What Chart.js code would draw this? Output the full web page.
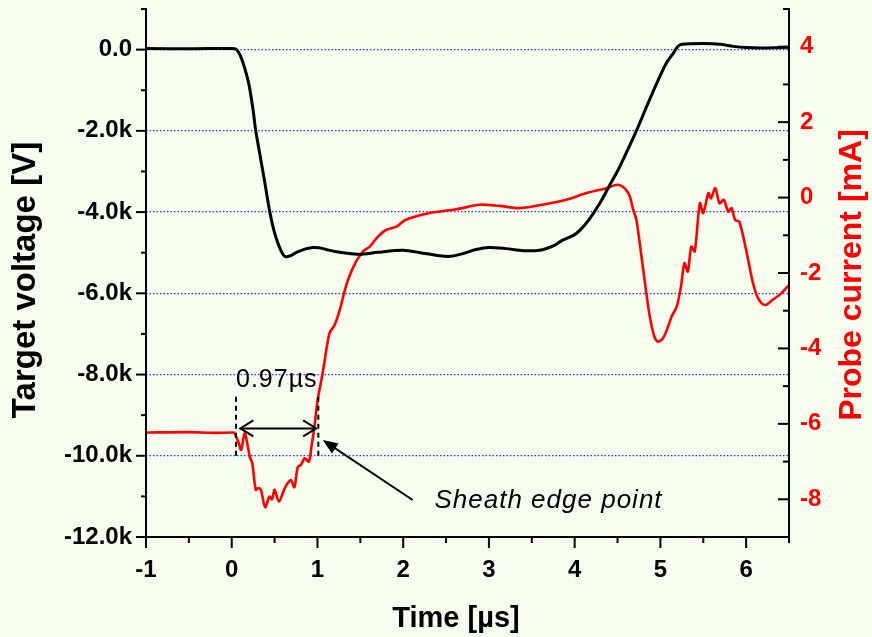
<!DOCTYPE html>
<html lang="en">
<head>
    <meta charset="UTF-8">
    <title>Target voltage and probe current</title>
    <script src="https://cdn.jsdelivr.net/npm/chart.js"></script>
    <style>
        body {
            margin: 0;
            padding: 0;
            background-color: #f6fdef;
        }
        #wrap {
            width: 872px;
            height: 637px;
        }
    </style>
</head>
<body>
    <div id="wrap">
        <canvas id="pulseChart" width="872" height="637"></canvas>
    </div>

    <script>
        // target voltage trace [µs, V]
        var timeV = [-1, -0.5, 0, 0.05, 0.1, 0.15, 0.2, 0.25, 0.28, 0.33, 0.38, 0.44, 0.48, 0.52, 0.56, 0.6, 0.63,
            0.68, 0.74, 0.79, 0.87, 0.95, 1.02, 1.1, 1.2, 1.3, 1.49, 1.7, 2.0, 2.2, 2.4, 2.55, 2.7, 2.85, 3.0,
            3.2, 3.4, 3.59, 3.75, 3.86, 3.98, 4.06, 4.17, 4.3, 4.41, 4.5, 4.6, 4.72, 4.85, 4.99, 5.07, 5.15,
            5.2, 5.25, 5.5, 5.7, 5.85, 6.0, 6.2, 6.5];
        var voltage = [30, 20, 30, 10, -150, -450, -850, -1500, -2000, -2600, -3200, -3950, -4350, -4650, -4880, -5050, -5100,
            -5080, -5010, -4960, -4900, -4870, -4880, -4920, -4970, -5000, -5040, -4990, -4940, -5000, -5070, -5090, -5020, -4920, -4870,
            -4900, -4950, -4940, -4830, -4690, -4580, -4450, -4180, -3760, -3330, -2990, -2550, -2000, -1350, -680, -330, -90,
            70, 130, 150, 130, 80, 50, 40, 60];

        // probe current trace [µs, mA]
        var timeI = [-1, -0.5, -0.2, 0, 0.03, 0.08, 0.11, 0.15, 0.18, 0.21, 0.24, 0.28, 0.31, 0.34, 0.39, 0.44, 0.47, 0.5,
            0.55, 0.61, 0.65, 0.69, 0.73, 0.77, 0.81, 0.85, 0.9, 0.93, 0.965, 1.0, 1.06, 1.14, 1.2, 1.26, 1.32, 1.37,
            1.45, 1.53, 1.61, 1.7, 1.8, 1.92, 2.03, 2.31, 2.62, 2.89, 3.12, 3.36, 3.67, 3.9, 4.14, 4.37, 4.5, 4.58,
            4.64, 4.68, 4.72, 4.8, 4.87, 4.93, 4.97, 5.03, 5.09, 5.13, 5.19, 5.24, 5.28, 5.32, 5.36, 5.4, 5.46, 5.5,
            5.56, 5.59, 5.64, 5.69, 5.74, 5.79, 5.83, 5.87, 5.92, 6.0, 6.08, 6.14, 6.22, 6.31, 6.41, 6.5];
        var current = [-6.23, -6.22, -6.24, -6.23, -6.24, -6.5, -6.69, -6.25, -6.5, -6.87, -7.05, -7.75, -7.7, -7.75, -8.21, -7.93, -8.0, -7.75,
            -8.06, -7.75, -7.58, -7.49, -7.68, -7.15, -7.08, -6.91, -7.0, -6.6, -6.07, -5.4, -4.66, -3.6, -3.38, -2.98, -2.45, -2.1,
            -1.7, -1.43, -1.3, -1.05, -0.86, -0.77, -0.59, -0.41, -0.31, -0.19, -0.22, -0.28, -0.17, -0.06, 0.12, 0.25, 0.34, 0.25,
            0.05, -0.3, -0.59, -1.92, -3.07, -3.69, -3.82, -3.73, -3.42, -3.16, -2.89, -2.36, -1.74, -1.96, -1.3, -1.43, -0.15, -0.41,
            0.12, -0.02, 0.25, -0.15, -0.06, -0.37, -0.28, -0.59, -0.64, -1.39, -2.27, -2.67, -2.85, -2.71, -2.54, -2.32];

        // sheath edge annotation (µs, mA)
        var markerTimes = [0.05, 1.01];
        var markerRange = [-5.28, -6.91];
        var spanTimes = [0.1, 0.985];
        var spanLevel = -6.12;
        var spanText = '0.97µs';
        var spanTextPos = [0.05, -5.03];
        var pointerFrom = [2.11, -8.02];
        var pointerTo = [1.062, -6.43];
        var pointerText = 'Sheath edge point';
        var pointerTextPos = [2.365, -8.24];

        var fontFamily = '"Liberation Sans", Arial, sans-serif';

        function line(ctx, x1, y1, x2, y2) {
            ctx.beginPath();
            ctx.moveTo(x1, y1);
            ctx.lineTo(x2, y2);
            ctx.stroke();
        }

        // axis lines, tick marks, titles and the annotation
        var framePlugin = {
            id: 'frame',
            afterDatasetsDraw: function (chart) {
                var ctx = chart.ctx;
                var area = chart.chartArea;
                var sx = chart.scales.x, sy = chart.scales.y, sy1 = chart.scales.y1;
                ctx.save();
                ctx.strokeStyle = '#000';
                ctx.lineWidth = 2;
                ctx.lineCap = 'square';
                line(ctx, area.left, area.top, area.left, area.bottom);
                line(ctx, area.right, area.top, area.right, area.bottom);
                line(ctx, area.left, area.bottom, area.right, area.bottom);
                ctx.lineCap = 'butt';

                for (var v = -12000; v <= 1000; v += 1000) {
                    var py = sy.getPixelForValue(v);
                    line(ctx, area.left - (v % 2000 === 0 ? 10 : 5), py, area.left, py);
                }
                for (var c = -9; c <= 5; c++) {
                    var py1 = sy1.getPixelForValue(c);
                    line(ctx, area.right - (c % 2 === 0 ? 11 : 6), py1, area.right, py1);
                }
                for (var t = -1; t <= 6.5; t += 0.5) {
                    var px = sx.getPixelForValue(t);
                    line(ctx, px, area.bottom, px, area.bottom + (Number.isInteger(t) ? 11 : 6));
                }

                // sheath edge annotation
                ctx.setLineDash([5, 4]);
                markerTimes.forEach(function (mt) {
                    var mx = sx.getPixelForValue(mt);
                    line(ctx, mx, sy1.getPixelForValue(markerRange[0]), mx, sy1.getPixelForValue(markerRange[1]));
                });
                ctx.setLineDash([]);

                var ax1 = sx.getPixelForValue(spanTimes[0]);
                var ax2 = sx.getPixelForValue(spanTimes[1]);
                var ay = sy1.getPixelForValue(spanLevel);
                line(ctx, ax1, ay, ax2, ay);
                ctx.beginPath();
                ctx.moveTo(ax1 + 13, ay - 8); ctx.lineTo(ax1, ay); ctx.lineTo(ax1 + 13, ay + 8);
                ctx.moveTo(ax2 - 13, ay - 8); ctx.lineTo(ax2, ay); ctx.lineTo(ax2 - 13, ay + 8);
                ctx.stroke();

                var fx = sx.getPixelForValue(pointerFrom[0]), fy = sy1.getPixelForValue(pointerFrom[1]);
                var tx = sx.getPixelForValue(pointerTo[0]), ty = sy1.getPixelForValue(pointerTo[1]);
                var ang = Math.atan2(ty - fy, tx - fx);
                line(ctx, fx, fy, tx - 10 * Math.cos(ang), ty - 10 * Math.sin(ang));
                ctx.fillStyle = '#000';
                ctx.beginPath();
                ctx.moveTo(tx, ty);
                ctx.lineTo(tx - 15 * Math.cos(ang) + 6 * Math.sin(ang), ty - 15 * Math.sin(ang) - 6 * Math.cos(ang));
                ctx.lineTo(tx - 15 * Math.cos(ang) - 6 * Math.sin(ang), ty - 15 * Math.sin(ang) + 6 * Math.cos(ang));
                ctx.closePath();
                ctx.fill();

                ctx.textBaseline = 'alphabetic';
                ctx.textAlign = 'left';
                ctx.letterSpacing = '1px';
                ctx.font = '25px ' + fontFamily;
                ctx.fillText(spanText, sx.getPixelForValue(spanTextPos[0]), sy1.getPixelForValue(spanTextPos[1]));
                ctx.font = 'italic 26px ' + fontFamily;
                ctx.fillText(pointerText, sx.getPixelForValue(pointerTextPos[0]), sy1.getPixelForValue(pointerTextPos[1]));
                ctx.letterSpacing = '0px';

                // axis titles
                ctx.textAlign = 'center';
                ctx.textBaseline = 'middle';
                ctx.font = 'bold 29px ' + fontFamily;
                ctx.fillText('Time [µs]', 456, 619);

                ctx.font = 'bold 33px ' + fontFamily;
                ctx.save();
                ctx.translate(26, 280);
                ctx.rotate(-Math.PI / 2);
                ctx.fillText('Target voltage [V]', 0, 0);
                ctx.restore();

                ctx.font = 'bold 32px ' + fontFamily;
                ctx.save();
                ctx.translate(852, 275);
                ctx.rotate(-Math.PI / 2);
                ctx.fillStyle = '#ff0000';
                ctx.fillText('Probe current [mA]', 0, 0);
                ctx.restore();

                ctx.restore();
            }
        };

        function pairs(xs, ys) {
            return xs.map(function (x, i) { return { x: x, y: ys[i] }; });
        }

        function noPadding(s) {
            s.paddingTop = 0;
            s.paddingBottom = 0;
            s.paddingLeft = 0;
            s.paddingRight = 0;
        }

        var tickFont = { family: fontFamily, size: 24, weight: 'bold' };

        var ctx = document.getElementById('pulseChart').getContext('2d');
        var pulseChart = new Chart(ctx, {
            type: 'scatter',
            data: {
                datasets: [{
                    label: 'Target voltage',
                    data: pairs(timeV, voltage),
                    yAxisID: 'y',
                    showLine: true,
                    borderColor: '#000000',
                    borderWidth: 3,
                    pointRadius: 0,
                    tension: 0.3
                }, {
                    label: 'Probe current',
                    data: pairs(timeI, current),
                    yAxisID: 'y1',
                    showLine: true,
                    borderColor: '#ff0000',
                    borderWidth: 2.6,
                    pointRadius: 0,
                    tension: 0.3
                }]
            },
            options: {
                responsive: false,
                animation: false,
                layout: { padding: { top: 9, left: 0, right: 0, bottom: 0 } },
                plugins: {
                    legend: { display: false },
                    tooltip: { enabled: false }
                },
                scales: {
                    x: {
                        type: 'linear',
                        min: -1,
                        max: 6.5,
                        afterFit: function (s) { s.height = 100; noPadding(s); },
                        grid: { display: false, drawTicks: false },
                        border: { display: false },
                        ticks: {
                            stepSize: 1,
                            includeBounds: false,
                            padding: 19,
                            color: '#000',
                            font: tickFont,
                            maxRotation: 0,
                            autoSkip: false
                        }
                    },
                    y: {
                        position: 'left',
                        min: -12000,
                        max: 1000,
                        afterFit: function (s) { s.width = 146; noPadding(s); },
                        grid: {
                            drawTicks: false,
                            lineWidth: 1.2,
                            color: function (c) {
                                var v = c.tick.value;
                                return (v % 2000 === 0 && v > -12000 && v <= 0) ? '#2a2aff' : 'rgba(0,0,0,0)';
                            }
                        },
                        border: { display: false, dash: [1.5, 2] },
                        ticks: {
                            stepSize: 1000,
                            padding: 14,
                            color: '#000',
                            font: tickFont,
                            autoSkip: false,
                            callback: function (v) {
                                if (v % 2000 !== 0 || v > 0) return '';
                                return v === 0 ? '0.0' : (v / 1000).toFixed(1) + 'k';
                            }
                        }
                    },
                    y1: {
                        position: 'right',
                        min: -9,
                        max: 5,
                        afterFit: function (s) { s.width = 83; noPadding(s); },
                        grid: { display: false, drawTicks: false },
                        border: { display: false },
                        ticks: {
                            stepSize: 1,
                            padding: 11,
                            color: '#ff0000',
                            font: tickFont,
                            autoSkip: false,
                            callback: function (v) { return (v % 2 === 0 && v >= -8 && v <= 4) ? String(v) : ''; }
                        }
                    }
                }
            },
            plugins: [framePlugin]
        });
    </script>
</body>
</html>
